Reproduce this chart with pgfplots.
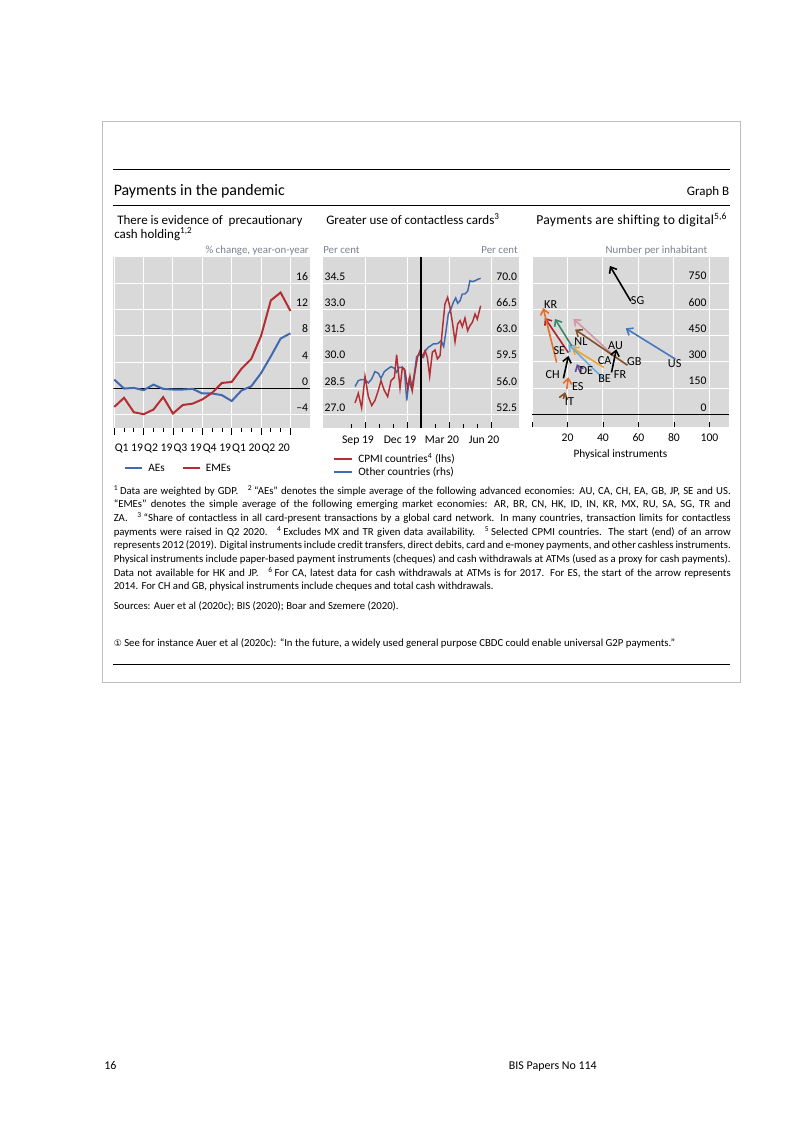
\documentclass[border=0pt]{standalone}
\usepackage{fontspec}
\setmainfont{Carlito}
\newfontfamily\dejavu{DejaVu Sans}
\usepackage{pgfplots}
\pgfplotsset{compat=1.18}
\usetikzlibrary{arrows.meta}

\definecolor{bisgray}{RGB}{217,217,217}
\definecolor{bisblue}{RGB}{65,105,175}
\definecolor{bisred}{RGB}{180,45,50}
\definecolor{unitgray}{RGB}{125,130,145}
\definecolor{framegray}{RGB}{190,190,190}
\definecolor{usc}{RGB}{70,120,190}
\definecolor{krc}{RGB}{230,110,40}
\definecolor{sec}{RGB}{175,35,45}
\definecolor{nlc}{RGB}{60,135,105}
\definecolor{auc}{RGB}{210,150,165}
\definecolor{gbc}{RGB}{130,80,40}
\definecolor{cac}{RGB}{240,165,40}
\definecolor{bec}{RGB}{110,170,220}
\definecolor{dec}{RGB}{100,70,150}

\newcommand{\fT}{\fontsize{12}{14}\selectfont}
\newcommand{\fP}{\fontsize{9.8}{12}\selectfont}
\newcommand{\fU}{\fontsize{8.2}{10}\selectfont}
\newcommand{\fK}{\fontsize{8.8}{10}\selectfont}
\newcommand{\fL}{\fontsize{8.5}{10}\selectfont}
\newcommand{\fC}{\fontsize{9.2}{10}\selectfont}
\newcommand{\fN}{\fontsize{8.1}{10.32}\selectfont}
\newcommand{\fF}{\fontsize{9}{11}\selectfont}
\newcommand{\sline}[1]{\makebox[\linewidth][s]{#1}}

\pgfplotsset{
  bisbase/.style={
    anchor=north west, scale only axis,
    axis line style={draw=none},
    tick label style={font=\fK},
    grid style={white, line width=0.75pt},
    major grid style={white, line width=0.75pt},
    tick style={black, line width=0.6pt},
    ytick style={draw=none},
  },
  arr/.style={line width=1.2pt, -{Straight Barb[length=4pt,width=6.5pt]}},
}

\begin{document}
\begin{tikzpicture}
\useasboundingbox (0,0) rectangle (210.01mm,-297.14mm);
\fill[white] (0,0) rectangle (210.01mm,-297.14mm);
\begin{scope}[x=0.26483mm,y=-0.26483mm]
\draw[framegray, line width=0.7pt] (102.5,121) rectangle (740,682);
\draw[line width=0.8pt] (113.5,169.5) -- (730,169.5);
\draw[line width=0.8pt] (113.5,205.5) -- (730,205.5);
\draw[line width=0.8pt] (113.5,664.5) -- (730,664.5);
\node[anchor=base west, inner sep=0, font=\fT] at (113.5,195) {Payments in the pandemic};
\node[anchor=base east, inner sep=0, font=\fP] at (729.5,195) {Graph B};
\node[anchor=base west, inner sep=0, font=\fP] at (117,224.5) {There is evidence of\ \ precautionary};
\node[anchor=base west, inner sep=0, font=\fP] at (114,238.5) {cash holding\textsuperscript{1,2}};
\node[anchor=base east, inner sep=0, font=\fU, text=unitgray] at (309,253.5) {\% change, year-on-year};
\node[anchor=base west, inner sep=0, font=\fP] at (326,224.5) {Greater use of contactless cards\textsuperscript{3}};
\node[anchor=base west, inner sep=0, font=\fU, text=unitgray] at (323,253.5) {Per cent};
\node[anchor=base east, inner sep=0, font=\fU, text=unitgray] at (518,253.5) {Per cent};
\node[anchor=base west, inner sep=0, font=\fontsize{10.3}{12}\selectfont] at (536,224.5) {\addfontfeatures{LetterSpace=2}Payments are shifting to digital\textsuperscript{5,6}};
\node[anchor=base east, inner sep=0, font=\fU, text=unitgray] at (707.5,253.5) {Number per inhabitant};
\node[rotate=90, anchor=center, inner sep=0, font=\fL] at (721,341) {Digital instruments};
\node[anchor=base, inner sep=0, font=\fL] at (620.5,457.5) {Physical instruments};
% legends
\draw[bisblue, line width=1.5pt] (125,468.3) -- (142.5,468.3);
\node[anchor=base west, inner sep=0, font=\fL] at (148,471.5) {AEs};
\draw[bisred, line width=1.5pt] (182.5,468.3) -- (200.5,468.3);
\node[anchor=base west, inner sep=0, font=\fL] at (205.5,471.5) {EMEs};
\draw[bisred, line width=1.5pt] (334,459) -- (352,459);
\node[anchor=base west, inner sep=0, font=\fL] at (358,462.3) {CPMI countries\textsuperscript{4} (lhs)};
\draw[bisblue, line width=1.5pt] (334,471.7) -- (352,471.7);
\node[anchor=base west, inner sep=0, font=\fL] at (358,475) {Other countries (rhs)};
% footnotes
\node[anchor=base west, inner sep=0] at (113.5,494) {\parbox[t]{163.4mm}{\fN
\sline{\textsuperscript{1}\,Data are weighted by GDP.\hspace{0.9em}\textsuperscript{2}\,“AEs” denotes the simple average of the following advanced economies: AU, CA, CH, EA, GB, JP, SE and US.}\\
\sline{“EMEs” denotes the simple average of the following emerging market economies: AR, BR, CN, HK, ID, IN, KR, MX, RU, SA, SG, TR and}\\
\sline{ZA.\hspace{0.9em}\textsuperscript{3}\,“Share of contactless in all card-present transactions by a global card network. In many countries, transaction limits for contactless}\\
\sline{payments were raised in Q2 2020.\hspace{0.9em}\textsuperscript{4}\,Excludes MX and TR given data availability.\hspace{0.9em}\textsuperscript{5}\,Selected CPMI countries. The start (end) of an arrow}\\
\sline{represents 2012 (2019). Digital instruments include credit transfers, direct debits, card and e-money payments, and other cashless instruments.}\\
\sline{Physical instruments include paper-based payment instruments (cheques) and cash withdrawals at ATMs (used as a proxy for cash payments).}\\
\sline{Data not available for HK and JP.\hspace{0.9em}\textsuperscript{6}\,For CA, latest data for cash withdrawals at ATMs is for 2017. For ES, the start of the arrow represents}\\
2014. For CH and GB, physical instruments include cheques and total cash withdrawals.}};
\node[anchor=base west, inner sep=0, font=\fN] at (113.5,609.3) {Sources: Auer et al (2020c); BIS (2020); Boar and Szemere (2020).};
\node[anchor=base west, inner sep=0, font=\fN] at (113.5,646) {{\dejavu\fontsize{6.8}{8}\selectfont ①} See for instance Auer et al (2020c): “In the future, a widely used general purpose CBDC could enable universal G2P payments.”};
\node[anchor=base west, inner sep=0, font=\fF] at (104,1069) {16};
\node[anchor=base east, inner sep=0, font=\fF] at (597,1069) {BIS Papers No 114};
\end{scope}

% ---------------- Panel 1 ----------------
\begin{axis}[bisbase,
  at={(30.0mm,-68.06mm)}, width=52.09mm, height=45.29mm,
  axis background/.style={fill=bisgray},
  xmin=-0.1, xmax=20, ymin=-6, ymax=20,
  xtick={0,3,6,9,12,15,18}, xticklabels={}, minor x tick num=2,
  xtick align=outside, ytick align=inside, xtick pos=left,
  major tick length=5pt, minor tick length=2.8pt,
  xmajorgrids, ymajorgrids,
  ytick={-4,0,4,8,12,16}, yticklabels={--4,0,4,8,12,16},
  yticklabel pos=right,
  yticklabel style={anchor=south east, inner sep=0pt, xshift=-0.45mm, yshift=0.77mm},
  extra x ticks={1.5,4.5,7.5,10.5,13.5,16.5},
  extra x tick labels={Q1 19,Q2 19,Q3 19,Q4 19,Q1 20,Q2 20},
  extra x tick style={major tick length=0pt, grid=none},
  xticklabel style={anchor=base, inner sep=0pt, yshift=-6.3mm},
]
\addplot[black, line width=0.9pt] coordinates {(-0.1,0) (20,0)};
\addplot[bisblue, line width=1.5pt] coordinates {(0,1.36)(1,0)(2,0.1)(3,-0.25)(4,0.6)(5,-0.05)(6,-0.15)(7,-0.15)(8,-0.05)(9,-0.75)(10,-0.75)(11,-1.0)(12,-1.9)(13,-0.3)(14,0.35)(15,2.35)(16,4.9)(17,7.6)(18,8.4)};
\addplot[bisred, line width=1.5pt] coordinates {(0,-2.8)(1,-1.4)(2,-3.6)(3,-3.9)(4,-3.2)(5,-1.3)(6,-3.8)(7,-2.5)(8,-2.3)(9,-1.65)(10,-0.65)(11,0.85)(12,1.0)(13,3.0)(14,4.5)(15,8.0)(16,13.4)(17,14.6)(18,11.8)};
\end{axis}

% ---------------- Panel 2 (rhs, blue) ----------------
\begin{axis}[bisbase,
  at={(85.54mm,-68.06mm)}, width=51.91mm, height=45.29mm,
  axis background/.style={fill=bisgray},
  xmin=-2, xmax=12, ymin=50.75, ymax=73.5,
  xtick={1,4,7,10}, xticklabels={}, minor xtick={0,2,3,5,6,8,9},
  tick align=inside, xtick pos=left,
  major tick length=4.5pt, minor tick length=3.2pt,
  xmajorgrids, ymajorgrids,
  ytick={52.5,56,59.5,63,66.5,70}, yticklabels={52.5,56.0,59.5,63.0,66.5,70.0},
  yticklabel pos=right,
  yticklabel style={anchor=south east, inner sep=0pt, xshift=-0.45mm, yshift=0.77mm},
  extra x ticks={0.5,3.5,6.5,9.5},
  extra x tick labels={Sep 19,Dec 19,Mar 20,Jun 20},
  extra x tick style={major tick length=0pt, grid=none},
  xticklabel style={anchor=base, inner sep=0pt, yshift=-4.1mm},
]
\addplot[bisblue, line width=1.1pt] coordinates {(0.29,56.27)(0.52,57.06)(0.76,57.20)(1.00,57.20)(1.24,56.75)(1.48,57.28)(1.71,58.26)(1.95,58.04)(2.14,57.37)(2.38,58.26)(2.62,58.61)(2.86,58.92)(3.10,58.70)(3.26,58.17)(3.43,58.83)(3.62,58.83)(3.81,58.61)(3.98,54.40)(4.14,57.06)(4.33,55.95)(4.52,57.95)(4.69,60.25)(4.86,60.52)(5.00,60.39)(5.17,60.16)(5.33,61.05)(5.52,61.49)(5.71,61.71)(5.88,61.94)(6.05,61.94)(6.24,62.02)(6.43,62.38)(6.62,61.58)(6.79,63.71)(6.95,65.92)(7.14,66.59)(7.31,67.47)(7.48,68.05)(7.62,67.34)(7.79,67.69)(7.95,68.58)(8.14,68.58)(8.33,68.94)(8.50,70.35)(8.67,70.22)(8.86,70.35)(9.10,70.57)(9.26,70.66)};
\end{axis}

% ---------------- Panel 2 (lhs, red) ----------------
\begin{axis}[bisbase,
  at={(85.54mm,-68.06mm)}, width=51.91mm, height=45.29mm,
  xmin=-2, xmax=12, ymin=26.25, ymax=36,
  hide x axis,
  ytick={27,28.5,30,31.5,33,34.5}, yticklabels={27.0,28.5,30.0,31.5,33.0,34.5},
  yticklabel pos=left,
  yticklabel style={anchor=south west, inner sep=0pt, xshift=0.35mm, yshift=0.77mm},
]
\addplot[bisred, line width=1.1pt] coordinates {(0.29,27.68)(0.52,28.23)(0.76,27.40)(1.00,29.20)(1.24,28.04)(1.48,27.53)(1.71,27.82)(1.95,28.39)(2.14,28.95)(2.38,28.39)(2.62,28.04)(2.86,28.95)(3.10,29.14)(3.26,30.43)(3.50,28.52)(3.67,29.71)(3.86,29.52)(4.05,28.48)(4.21,29.20)(4.38,28.39)(4.57,29.43)(4.76,30.32)(4.93,30.66)(5.10,30.32)(5.29,30.66)(5.45,30.28)(5.62,29.20)(5.81,30.57)(6.00,30.70)(6.17,30.19)(6.36,30.38)(6.52,31.80)(6.71,33.32)(6.90,33.70)(7.07,33.13)(7.26,32.18)(7.43,31.17)(7.62,32.18)(7.79,32.37)(7.95,32.03)(8.14,32.52)(8.33,31.80)(8.50,32.09)(8.67,32.28)(8.86,32.75)(9.02,32.46)(9.26,33.22)};
\addplot[black, line width=0.9pt] coordinates {(5,26.25) (5,36)};
\end{axis}

% ---------------- Panel 3 ----------------
\begin{axis}[bisbase,
  at={(140.89mm,-68.06mm)}, width=52.17mm, height=45.15mm,
  axis background/.style={fill=bisgray},
  xmin=0, xmax=111, ymin=-75, ymax=900,
  xtick={0,20,40,60,80,100}, xticklabels={,20,40,60,80,100},
  tick align=inside, xtick pos=left, major tick length=4.5pt,
  xmajorgrids, ymajorgrids,
  ytick={0,150,300,450,600,750}, yticklabels={0,150,300,450,600,750},
  yticklabel pos=right,
  yticklabel style={anchor=south east, inner sep=0pt, xshift=-5.9mm, yshift=0.77mm},
  xticklabel style={anchor=base, inner sep=0pt, yshift=-3.6mm},
]
\addplot[black, line width=0.9pt] coordinates {(0,0) (111,0)};
\addplot[arr, black] coordinates {(55.7,647) (43.9,849)};
\addplot[arr, usc] coordinates {(80.8,316) (52.8,492)};
\addplot[arr, auc] coordinates {(45.2,344) (23.4,546)};
\addplot[arr, gbc] coordinates {(53.8,281) (24.3,485)};
\addplot[arr, cac] coordinates {(40.5,268) (22.4,382)};
\addplot[arr, bec] coordinates {(40.5,202) (20.5,400)};
\addplot[arr, nlc] coordinates {(22.4,391) (12.9,546)};
\addplot[arr, sec] coordinates {(20.5,353) (7.2,552)};
\addplot[arr, krc] coordinates {(13.9,297) (6.3,608)};
\addplot[arr, black] coordinates {(17.7,206) (20.5,334)};
\addplot[arr, dec] coordinates {(27.2,240) (25.3,287)};
\addplot[arr, black] coordinates {(44.8,240) (47.5,372)};
\addplot[arr, krc] coordinates {(19.6,145) (20.5,212)};
\addplot[arr, gbc] coordinates {(17.7,89) (18.6,127)};
\node[font=\fC, inner sep=0] at (axis cs:59.5,650) {SG};
\node[font=\fC, inner sep=0] at (axis cs:80.4,291) {US};
\node[font=\fC, inner sep=0] at (axis cs:10.5,627) {KR};
\node[font=\fC, inner sep=0] at (axis cs:15.4,366) {SE};
\node[font=\fC, inner sep=0] at (axis cs:27.6,414) {NL};
\node[font=\fC, inner sep=0] at (axis cs:47.1,395) {AU};
\node[font=\fC, inner sep=0] at (axis cs:40.9,310) {CA};
\node[font=\fC, inner sep=0] at (axis cs:57.6,300) {GB};
\node[font=\fC, inner sep=0] at (axis cs:11.6,225) {CH};
\node[font=\fC, inner sep=0] at (axis cs:30.6,249) {DE};
\node[font=\fC, inner sep=0] at (axis cs:40.9,202) {BE};
\node[font=\fC, inner sep=0] at (axis cs:49.6,230) {FR};
\node[font=\fC, inner sep=0] at (axis cs:25.8,161) {ES};
\node[font=\fC, inner sep=0] at (axis cs:21.1,76) {IT};
\end{axis}
\end{tikzpicture}
\end{document}
